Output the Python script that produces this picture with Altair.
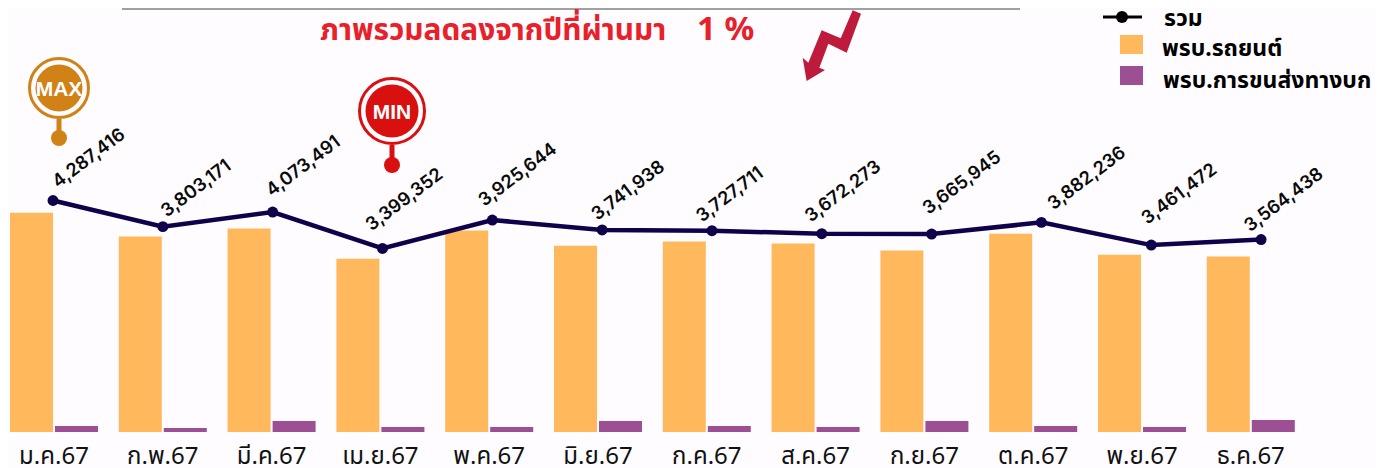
import altair as alt
import pandas as pd

months = ["ม.ค.67","ก.พ.67","มี.ค.67","เม.ย.67","พ.ค.67","มิ.ย.67","ก.ค.67","ส.ค.67","ก.ย.67","ต.ค.67","พ.ย.67","ธ.ค.67"]
total = [4287416,3803171,4073491,3399352,3925644,3741938,3727711,3672273,3665945,3882236,3461472,3564438]
cars = [4060000,3620000,3770000,3210000,3730000,3450000,3530000,3490000,3360000,3670000,3285000,3250000]
trucks = [111000,74000,204000,93000,93000,204000,111000,93000,204000,111000,93000,222000]

df = pd.DataFrame({"month":months,"total":total,"cars":cars,"trucks":trucks})
df["label"] = df["total"].map(lambda v: f"{v:,}")

NUM = "Inter"
THAI = "Noto Sans, Noto Sans Thai, Loma, Garuda, sans-serif"
ORANGE="#FFB85C"; PURPLE="#9C4F92"; NAVY="#10024A"; BG="#FEFCFF"

X = alt.X("month:N", sort=months, title=None,
          scale=alt.Scale(domain=months, range=[-8.4,1297.2]),
          axis=alt.Axis(domain=False, ticks=False, labelAngle=0, labelFontSize=24, labelColor="#111111",
                        labelFont=THAI, labelPadding=24, labelBaseline="middle", grid=False))
X_line = alt.X("month:N", sort=months, title=None,
               scale=alt.Scale(domain=months, range=[-9.9,1308.0]), axis=None)
Yscale = alt.Scale(domain=[0,7834000], nice=False, zero=True)

def y(f):
    return alt.Y(f+":Q", scale=Yscale, axis=None, title=None)

base = alt.Chart(df)
bar1 = base.mark_bar(width=43, xOffset=-22.5, color=ORANGE).encode(x=X, y=y("cars"))
bar2 = base.mark_bar(width=43, xOffset=22.5, color=PURPLE).encode(x=X, y=y("trucks"))
line = base.mark_line(color=NAVY, strokeWidth=4.5).encode(x=X_line, y=y("total"))
pts = base.mark_point(color=NAVY, filled=True, opacity=1, size=120).encode(x=X_line, y=y("total"))

# hand nudges of the value labels, as placed in the picture
nudge = [(5,-12),(4,-9),(-1,-15),(-11,-17),(-8,-13),(-5,-9),(-10,-8),(-11,-11),(-3,-19),(12,-12),(-4,-20),(-11,-7)]
labels = [
    alt.Chart(df.iloc[[i]]).mark_text(angle=323, align="left", baseline="alphabetic", xOffset=n[0], yOffset=n[1],
        font=NUM, fontSize=18.3, fontWeight=600, color="#0a0a0a").encode(x=X_line, y=y("total"), text="label")
    for i, n in enumerate(nudge)
]

def one():
    return alt.Chart(pd.DataFrame({"t":[""]}))

def txt(s, ax, ay, size, color="#000000", weight="bold", font=THAI, align="left"):
    return alt.Chart(pd.DataFrame({"t":[s]})).mark_text(font=font, fontSize=size, fontWeight=weight, color=color, align=align, baseline="alphabetic").encode(
        text="t:N", x=alt.value(ax-8), y=alt.value(ay-8))

def dot(ax, ay, d, fill=None, stroke=None, sw=0):
    if fill:
        kw = dict(shape="circle", size=d*d, opacity=1, filled=True, fill=fill, strokeWidth=0)
    else:
        kw = dict(shape="circle", size=d*d, opacity=1, filled=False, stroke=stroke, strokeWidth=sw)
    return one().mark_point(**kw).encode(x=alt.value(ax-8), y=alt.value(ay-8))

def seg(x1,y1,x2,y2,color,w):
    return one().mark_rule(color=color, strokeWidth=w).encode(x=alt.value(x1-8), x2=alt.value(x2-8), y=alt.value(y1-8), y2=alt.value(y2-8))

def box(x1,y1,x2,y2,color):
    return one().mark_rect(color=color).encode(x=alt.value(x1-8), x2=alt.value(x2-8), y=alt.value(y1-8), y2=alt.value(y2-8))

def pin(cx, cy, r, color, label, endy, endr):
    return [
        seg(cx,cy+r,cx,endy,color,5),
        dot(cx,endy,2*endr,fill=color),
        dot(cx,cy,2*r-3,stroke=color,sw=3),
        dot(cx,cy,2*r-15,fill=color),
        txt(label,cx,cy+7.5,21,color="#FFFFFF",font="Liberation Sans",align="center"),
    ]

pts_z = [(218,28),(243,38),(200,155),(145,128),(118,200),(135,207),(80,240),(68,170),(85,185),(125,88),(182,112)]
arrow_path = "M" + "L".join(f"{(a-155)/106:.3f},{(b-134)/106:.3f}" for a,b in pts_z) + "Z"
arrow = one().mark_point(shape=arrow_path, size=5000, filled=True, fill="#BE1A3B", strokeWidth=0, opacity=1).encode(
    x=alt.value(780+155/3-8), y=alt.value(134/3-8))

bars = alt.layer(bar1, bar2)
lines = alt.layer(line, pts, *labels)

decor = [
    seg(122,8,1020,8,"#444444",1),
    txt("ภาพรวมลดลงจากปีที่ผ่านมา",320,39,29.8,color="#E8202A"),
    txt("1 %",697,39,33,color="#E8202A"),
    arrow,
    seg(1103,16,1142,16,"#000000",3),
    dot(1122,16,12,fill="#000000"),
    txt("รวม",1164,25,23),
    box(1120,34,1143,53,ORANGE),
    txt("พรบ.รถยนต์",1162,55,23),
    box(1120,65,1143,84,PURPLE),
    txt("พรบ.การขนส่งทางบก",1163,87,23),
] + pin(59,87,31,"#D08216","MAX",137,8) + pin(392,110,34,"#D81010","MIN",164,8)

chart = alt.layer(bars, lines, *decor).resolve_scale(x="independent", y="shared").properties(
    width=1367, height=423, padding=0, background=BG
).configure_view(stroke=None)

chart.save("out.html", embed_options={"renderer":"svg","actions":False})
